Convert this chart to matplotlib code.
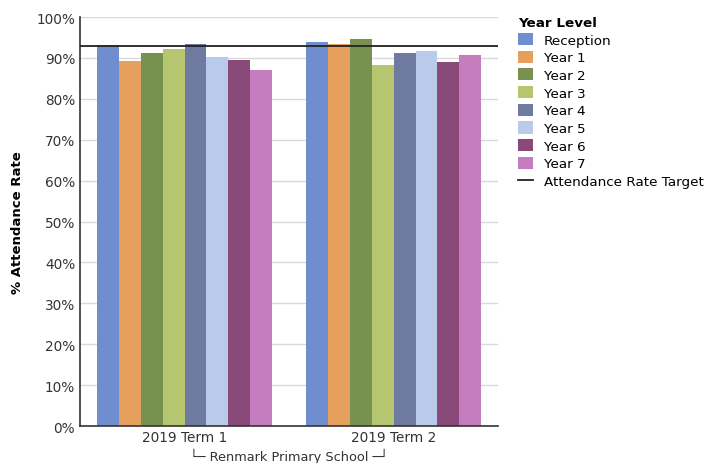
import numpy as np
import matplotlib.pyplot as plt
from matplotlib.ticker import PercentFormatter
from matplotlib.lines import Line2D
from matplotlib.patches import Patch

# data
terms = ["2019 Term 1", "2019 Term 2"]
levels = ["Reception", "Year 1", "Year 2", "Year 3", "Year 4", "Year 5", "Year 6", "Year 7"]
term1 = [93.1, 89.2, 91.3, 92.3, 93.3, 90.2, 89.6, 87.0]
term2 = [93.8, 93.5, 94.6, 88.3, 91.2, 91.6, 89.1, 90.8]
target = 93.0
school = "Renmark Primary School"

colors = ["#6f8dcf", "#e6a05d", "#77924f", "#b5c570", "#6f7aa1",
          "#b9caeb", "#8a4a79", "#c67dc0"]

plt.rcParams['font.family'] = ['DejaVu Sans']

fig = plt.figure(figsize=(7.05, 4.64), dpi=100)
ax = fig.add_axes([0.1135, 0.0797, 0.593, 0.8813])

x = np.arange(len(terms))
w = 0.105
vals = np.array([term1, term2])
for i, lev in enumerate(levels):
    off = (i - (len(levels) - 1) / 2) * w
    ax.bar(x + off, vals[:, i], width=w, color=colors[i], zorder=2)

ax.axhline(target, color="#222222", lw=1.3, zorder=3)

ax.set_xlim(-0.5, 1.5)
ax.set_ylim(0, 100)
ax.set_yticks(np.arange(0, 101, 10))
ax.yaxis.set_major_formatter(PercentFormatter(decimals=0))
ax.set_xticks(x)
ax.set_xticklabels(terms)
ax.tick_params(axis="both", length=0, labelsize=9.8, colors="#333333")
ax.tick_params(axis="x", pad=3)
ax.grid(axis="y", color="#d9d9d9", lw=1, zorder=0)
for s in ["top", "right"]:
    ax.spines[s].set_visible(False)
ax.spines["left"].set_color("#333333")
ax.spines["bottom"].set_color("#333333")
ax.spines["left"].set_linewidth(1.2)
ax.spines["bottom"].set_linewidth(1.2)

ax.set_ylabel("% Attendance Rate", fontsize=9.5, fontweight="bold", labelpad=9)

ax.text(0.5, -0.072, "\u2514\u2500 " + school + " \u2500\u2518", transform=ax.transAxes,
        ha="center", va="center", fontsize=9.3, color="#333333")

handles = [Patch(facecolor=c, edgecolor="none") for c in colors]
handles.append(Line2D([0], [0], color="#222222", lw=1.3))
labels = levels + ["Attendance Rate Target"]
leg = fig.legend(handles, labels, title="Year Level", loc="upper left",
                 bbox_to_anchor=(0.727, 0.975), frameon=False, fontsize=9.7,
                 title_fontproperties={"weight": "bold", "size": 9.7},
                 handlelength=1.1, handleheight=1.0, handletextpad=0.8,
                 labelspacing=0.3, borderaxespad=0)
leg._legend_box.align = "left"

fig.savefig("out.png", dpi=100)
